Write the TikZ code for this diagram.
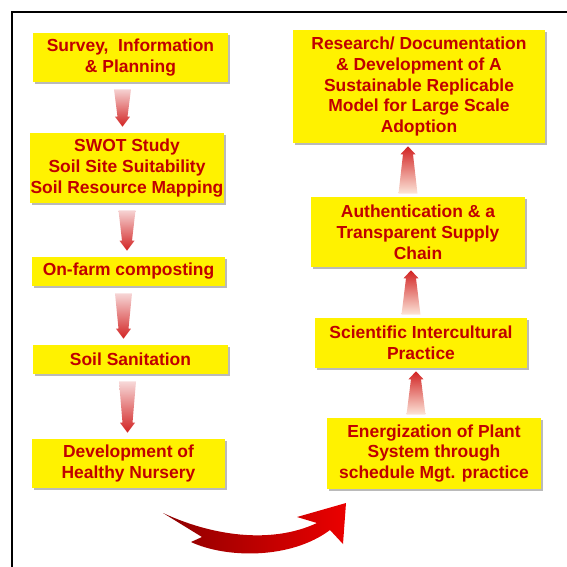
\documentclass[tikz,border=0pt]{standalone}
\usepackage{fontspec}
\setmainfont{Liberation Sans}
\usetikzlibrary{calc,shadows}
\definecolor{boxred}{RGB}{192,0,0}
\definecolor{arrowred}{RGB}{210,35,35}
\definecolor{swooshdark}{RGB}{140,0,0}
\definecolor{swooshbright}{RGB}{235,0,0}
\tikzset{
        stage/.style = {fill=yellow, text=boxred, align=center, inner sep=0pt,
                font=\fontsize{12.4}{14.9}\selectfont\bfseries,
                drop shadow={shadow xshift=1.6pt, shadow yshift=-1.6pt, fill=black!45, opacity=.6}},
        flowdown/.style = {top color=arrowred!6, bottom color=arrowred,
                to path={($(\tikztostart)+(-8.5,7)$) -- ($(\tikztostart)+(8.5,7)$)
                -- ($(\tikztostart |- \tikztotarget)+(5,-16)$) -- ($(\tikztostart |- \tikztotarget)+(7.5,-16)$)
                -- ($(\tikztostart |- \tikztotarget)+(0,-6)$) -- ($(\tikztostart |- \tikztotarget)+(-7.5,-16)$)
                -- ($(\tikztostart |- \tikztotarget)+(-5,-16)$) -- cycle}},
        flowup/.style = {bottom color=orange!10, top color=arrowred,
                to path={($(\tikztostart)+(-9.5,-3)$) -- ($(\tikztostart)+(9.5,-3)$)
                -- ($(\tikztostart |- \tikztotarget)+(5,11)$) -- ($(\tikztostart |- \tikztotarget)+(7.5,11)$)
                -- ($(\tikztostart |- \tikztotarget)+(0,3)$) -- ($(\tikztostart |- \tikztotarget)+(-7.5,11)$)
                -- ($(\tikztostart |- \tikztotarget)+(-5,11)$) -- cycle}}
}

\begin{document}
\begin{tikzpicture}[x=0.025cm, y=-0.025cm]

        \useasboundingbox (0,0) rectangle (567,567);

        % Frame
        \draw [line width=1.4pt] (12,567) |- (567,12);

        % Left column
        \node[stage, minimum width=4.875cm, minimum height=1.225cm] (survey) at (130.5,57.5) {Survey,~ Information\\\& Planning};
        \node[stage, minimum width=4.85cm, minimum height=1.75cm] (swot) at (127,168) {SWOT Study\\Soil Site Suitability\\Soil Resource Mapping};
        \node[stage, minimum width=4.825cm, minimum height=0.725cm] (compost) at (128.5,271.5) {On-farm composting};
        \node[stage, minimum width=4.875cm, minimum height=0.725cm] (sanitation) at (130.5,359.5) {Soil Sanitation};
        \node[stage, minimum width=4.825cm, minimum height=1.225cm] (nursery) at (128.5,463.5) {Development of\\Healthy Nursery};

        % Right column
        \node[stage, minimum width=6.3cm, minimum height=2.825cm] (research) at (419,86.5) {Research/ Documentation\\\& Development of A\\Sustainable Replicable\\Model for Large Scale\\Adoption};
        \node[stage, minimum width=5.35cm, minimum height=1.75cm] (supply) at (418,232) {Authentication \& a\\Transparent Supply\\Chain};
        \node[stage, minimum width=5.3cm, minimum height=1.25cm] (practice) at (421,343) {Scientific Intercultural\\Practice};
        \node[stage, minimum width=5.35cm, minimum height=1.775cm] (energy) at (434,453.5) {Energization of Plant\\System through\\schedule Mgt. practice};

        % Arrows down
        \shade [flowdown] ([xshift=-0.2cm]survey.south) to (swot.north);
        \shade [flowdown] (swot.south) to (compost.north);
        \shade [flowdown] ([xshift=-0.125cm]compost.south) to (sanitation.north);
        \shade [flowdown] ([xshift=-0.075cm]sanitation.south) to (nursery.north);

        % Arrows up
        \shade [flowup] ([xshift=-0.45cm]energy.north) to (practice.south);
        \shade [flowup] ([xshift=-0.25cm]practice.north) to (supply.south);
        \shade [flowup] ([xshift=-0.25cm]supply.north) to (research.south);

        % Curved arrow
        \shade [left color=swooshdark, right color=swooshbright] (163,513) -- (202,537) -- (191,542)
                .. controls (225,558) and (290,560) .. (330,530) -- (343,544) -- (346,503) -- (297,517) -- (317,523)
                .. controls (270,545) and (210,535) .. cycle;

\end{tikzpicture}
\end{document}
